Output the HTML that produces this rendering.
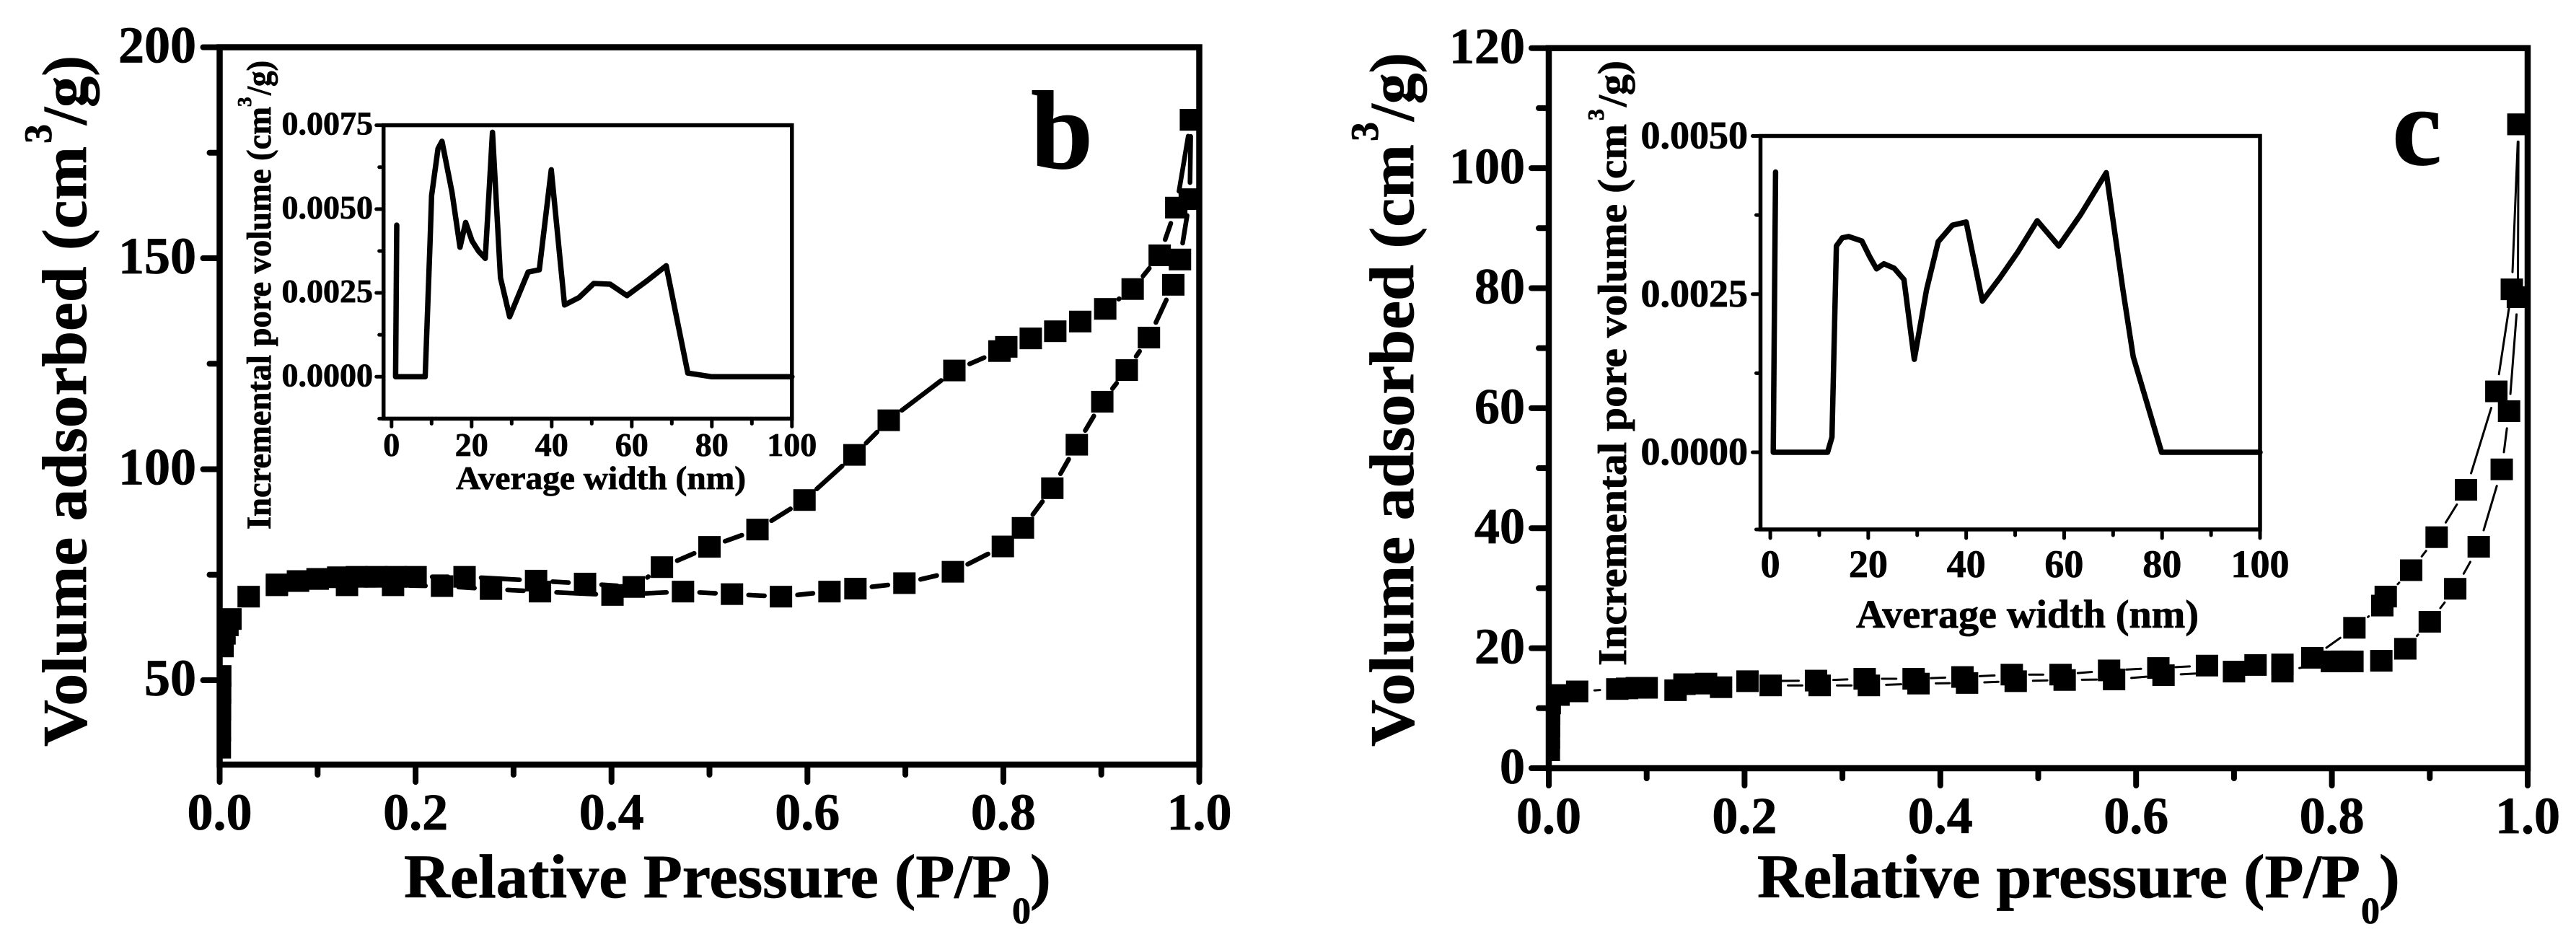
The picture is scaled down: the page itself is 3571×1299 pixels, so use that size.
<!DOCTYPE html>
<html lang="en">
<head>
<meta charset="utf-8">
<title>Nitrogen sorption isotherms b and c</title>
<style>
html,body{margin:0;padding:0;background:#fff;}
svg{display:block;}
text{font-family:"Liberation Serif",serif;font-weight:700;fill:#000;stroke:#000;stroke-width:0.8;}
</style>
</head>
<body>
<svg id="figure" xmlns="http://www.w3.org/2000/svg" width="3571" height="1299" viewBox="0 0 3571 1299">
  <rect x="0" y="0" width="3571" height="1299" fill="#fff"/>

  <defs>
    <clipPath id="b-plot-clip"><rect x="300.5" y="61.5" width="1366" height="1002.5"/></clipPath>
    <clipPath id="c-plot-clip"><rect x="2143" y="62.7" width="1365" height="1006.3"/></clipPath>
  </defs>

  <g id="panel-b">
    <g id="b-main"></g>
    <g id="b-inset"></g>
    <text x="1429" y="233" font-size="155">b</text>
    <text transform="translate(119,1035) rotate(-90)" font-size="87" textLength="832" lengthAdjust="spacingAndGlyphs">Volume adsorbed (cm</text>
    <text transform="translate(71,199) rotate(-90)" font-size="54">3</text>
    <text transform="translate(119,173) rotate(-90)" font-size="87" textLength="96" lengthAdjust="spacingAndGlyphs">/g)</text>
    <text x="560" y="1244" font-size="86" textLength="842" lengthAdjust="spacingAndGlyphs">Relative Pressure (P/P</text>
    <text x="1403" y="1280" font-size="52">0</text>
    <text x="1428" y="1244" font-size="86">)</text>
    <text transform="translate(375,734) rotate(-90)" font-size="48" textLength="586" lengthAdjust="spacingAndGlyphs">Incremental pore volume (cm</text>
    <text transform="translate(348,148) rotate(-90)" font-size="27">3</text>
    <text transform="translate(375,132) rotate(-90)" font-size="48" textLength="48" lengthAdjust="spacingAndGlyphs">/g)</text>
    <text x="632" y="678" font-size="46" textLength="402" lengthAdjust="spacingAndGlyphs">Average width (nm)</text>
  </g>

  <g id="panel-c">
    <g id="c-main"></g>
    <g id="c-inset"></g>
    <text x="3316" y="228" font-size="155">c</text>
    <text transform="translate(1959,1035) rotate(-90)" font-size="87" textLength="835" lengthAdjust="spacingAndGlyphs">Volume adsorbed (cm</text>
    <text transform="translate(1910,196) rotate(-90)" font-size="54">3</text>
    <text transform="translate(1959,168) rotate(-90)" font-size="87" textLength="95" lengthAdjust="spacingAndGlyphs">/g)</text>
    <text x="2436" y="1244" font-size="86" textLength="836" lengthAdjust="spacingAndGlyphs">Relative pressure (P/P</text>
    <text x="3273" y="1280" font-size="52">0</text>
    <text x="3298" y="1244" font-size="86">)</text>
    <text transform="translate(2254,923) rotate(-90)" font-size="56" textLength="751" lengthAdjust="spacingAndGlyphs">Incremental pore volume (cm</text>
    <text transform="translate(2223,167) rotate(-90)" font-size="32">3</text>
    <text transform="translate(2254,148) rotate(-90)" font-size="56" textLength="64" lengthAdjust="spacingAndGlyphs">/g)</text>
    <text x="2573" y="870" font-size="55" textLength="475" lengthAdjust="spacingAndGlyphs">Average width (nm)</text>
  </g>
</svg>

<script>
// ---- chart data ----
const pressureTicks = [0, 0.2, 0.4, 0.6, 0.8, 1.0];
const pressureTickLabels = ['0.0', '0.2', '0.4', '0.6', '0.8', '1.0'];
const pressureMinorTicks = [0.1, 0.3, 0.5, 0.7, 0.9];
const widthTicks = [0, 20, 40, 60, 80, 100];
const widthTickLabels = ['0', '20', '40', '60', '80', '100'];
const widthMinorTicks = [10, 30, 50, 70, 90];

const bVolumeTicks = [50, 100, 150, 200];
const bVolumeTickLabels = ['50', '100', '150', '200'];
const bVolumeMinorTicks = [75, 125, 175];
const cVolumeTicks = [0, 20, 40, 60, 80, 100, 120];
const cVolumeTickLabels = ['0', '20', '40', '60', '80', '100', '120'];
const cVolumeMinorTicks = [10, 30, 50, 70, 90, 110];

const bInsetTicks = [0, 0.0025, 0.005, 0.0075];
const bInsetTickLabels = ['0.0000', '0.0025', '0.0050', '0.0075'];
const bInsetMinorTicks = [-0.00125, 0.00125, 0.00375, 0.00625];
const cInsetTicks = [0, 0.0025, 0.005];
const cInsetTickLabels = ['0.0000', '0.0025', '0.0050'];
const cInsetMinorTicks = [-0.00122, 0.00125, 0.00375];

const bAdsorptionP = [0.0002,0.0003,0.0004,0.0005,0.0006,0.003,0.005,0.008,0.011,0.0296,0.0584,0.08,0.1,0.13,0.177,0.227,0.277,0.327,0.401,0.473,0.523,0.573,0.6225,0.649,0.699,0.7485,0.7995,0.82,0.85,0.875,0.901,0.926,0.9486,0.9735,0.9803,0.9903,0.9915];
const bAdsorptionV = [34,38,43,47,51,58,61,63,64.5,69.8,72.5,73.5,74,72.5,72.5,72.3,71.6,71,70.2,71,70.4,69.8,71,71.7,73,75.7,81.7,86.1,95.5,105.8,116,123.5,131.2,143.7,149.7,164,182.8];
const bDesorptionP = [0.9915,0.9765,0.9596,0.932,0.904,0.8785,0.853,0.828,0.803,0.796,0.75,0.683,0.648,0.597,0.549,0.5,0.4515,0.4227,0.373,0.323,0.25,0.2,0.18,0.16,0.14,0.121,0.1,0.08,0.0585];
const bDesorptionV = [182.8,162,150.7,142.7,138,135,132.7,131,129,128,123.4,111.6,103.4,92.7,85.7,81.6,76.8,72.1,72.9,73.6,74.5,74.5,74.5,74.5,74.5,74.4,74,73.5,72.7];

const cAdsorptionP = [0.0001,0.0002,0.0003,0.0004,0.001,0.01,0.029,0.07,0.08,0.09,0.1,0.1295,0.176,0.2267,0.2767,0.327,0.3777,0.4273,0.477,0.527,0.5775,0.628,0.70,0.7495,0.80,0.81,0.821,0.8505,0.875,0.90,0.926,0.95,0.9735,0.981,0.99,0.9906];
const cAdsorptionV = [3,5,7,9,10.8,12.2,12.8,13.2,13.3,13.4,13.4,13,13.5,13.8,13.8,13.8,14.1,14.2,14.5,14.7,14.8,15.5,16.1,16.1,17.8,17.8,17.8,17.9,19.9,24.4,29.9,36.9,49.8,59.5,78.5,107.3];
const cDesorptionP = [0.9906,0.9838,0.968,0.937,0.907,0.881,0.855,0.8515,0.823,0.78,0.7495,0.722,0.6724,0.6227,0.5724,0.5228,0.473,0.4226,0.3727,0.3227,0.273,0.203,0.1607,0.1386];
const cDesorptionV = [107.3,79.8,62.8,46.4,38.5,33,28.6,27.1,23.4,18.4,17.3,17.2,17.1,16.7,16.3,15.6,15.6,15.2,14.9,14.9,14.6,14.5,14.1,14];

const bInsetWidth = [1.3,1.0,8.4,9.6,10,11.6,12.6,15.1,17.1,18.5,20.1,21.7,23.4,25.2,27.2,29.5,34.1,36.9,39.9,43.2,46.8,50.5,54.6,58.8,63.8,68.6,74,80,100];
const bInsetVolume = [0.00452,0,0,0.00397,0.0054,0.0068,0.00702,0.0055,0.00386,0.0046,0.00405,0.00375,0.00353,0.00729,0.00295,0.00179,0.00312,0.00319,0.00617,0.00214,0.00236,0.00278,0.00276,0.00242,0.00286,0.00331,0.00011,0,0];
const cInsetWidth = [1.08,0.6,11.7,12.6,13.5,14.7,16,18.7,20.3,21.7,23.2,25.3,27.3,29.4,31.9,34.3,37.2,40,43.3,46.9,50.5,54.5,58.9,63.4,68.6,72,74.1,75.8,79.9,100];
const cInsetVolume = [0.00443,0,0,0.00024,0.00326,0.00339,0.00341,0.00334,0.00309,0.0029,0.00298,0.00291,0.00273,0.00147,0.00257,0.00333,0.00359,0.00364,0.00239,0.00276,0.00316,0.00366,0.00326,0.00376,0.00442,0.00257,0.00151,0.00107,0,0];

// ---- drawing ----
const NS = 'http://www.w3.org/2000/svg';

function makeScale(domainMin, domainMax, pixelMin, pixelMax) {
  return function (v) {
    return pixelMin + (v - domainMin) / (domainMax - domainMin) * (pixelMax - pixelMin);
  };
}

function svgEl(parent, tag, attrs) {
  const el = document.createElementNS(NS, tag);
  for (const k in attrs) el.setAttribute(k, attrs[k]);
  parent.appendChild(el);
  return el;
}

function drawFrame(g, xs, ys, xDomain, yDomain, sw) {
  const x0 = xs(xDomain[0]), x1 = xs(xDomain[1]), y0 = ys(yDomain[0]), y1 = ys(yDomain[1]);
  const el = svgEl(g, 'rect', {x: x0, y: y1, width: x1 - x0, height: y0 - y1, fill: 'none', stroke: '#000', 'stroke-width': sw});
  
  
}

function drawXTicks(g, xs, base, values, len, sw) {
  values.forEach(function (v) {
    const el = svgEl(g, 'line', {x1: xs(v), x2: xs(v), y1: base, y2: base + len, stroke: '#000', 'stroke-width': sw, 'stroke-linecap': 'round'});
    
    
  });
}

function drawYTicks(g, ys, base, values, len, sw) {
  values.forEach(function (v) {
    const el = svgEl(g, 'line', {x1: base, x2: base - len, y1: ys(v), y2: ys(v), stroke: '#000', 'stroke-width': sw, 'stroke-linecap': 'round'});
    
    
  });
}

function drawXLabels(g, xs, values, labels, baseline, size) {
  values.forEach(function (v, i) {
    const el = svgEl(g, 'text', {x: xs(v), y: baseline, 'font-size': size, 'text-anchor': 'middle'});
    el.textContent = labels[i];
    
    
  });
}

function drawYLabels(g, ys, values, labels, right, drop, size) {
  values.forEach(function (v, i) {
    const el = svgEl(g, 'text', {x: right, y: ys(v) + drop, 'font-size': size, 'text-anchor': 'end'});
    el.textContent = labels[i];
    
    
  });
}

// Origin-style "line + symbol" connector: each segment stops short of its markers.
function drawGapLine(g, xs, ys, px, py, gap, sw) {
  for (let i = 0; i + 1 < px.length; i++) {
    const ax = xs(px[i]), ay = ys(py[i]), bx = xs(px[i + 1]), by = ys(py[i + 1]);
    const d = Math.hypot(bx - ax, by - ay);
    if (d <= 2 * gap) continue;
    const ux = (bx - ax) / d, uy = (by - ay) / d;
    const el = svgEl(g, 'line', {x1: ax + ux * gap, y1: ay + uy * gap, x2: bx - ux * gap, y2: by - uy * gap, stroke: '#000', 'stroke-width': sw, 'stroke-linecap': 'round'});
    
    
  }
}

function drawMarkers(g, xs, ys, px, py) {
  px.forEach(function (p, i) {
    const el = svgEl(g, 'rect', {x: xs(p) - 15.5, y: ys(py[i]) - 15, width: 31, height: 30, fill: '#000'});
    
    
  });
}

function drawCurve(g, xs, ys, px, py, sw) {
  const pts = px.map(function (p, i) { return xs(p).toFixed(1) + ',' + ys(py[i]).toFixed(1); }).join(' ');
  const el = svgEl(g, 'polyline', {points: pts, fill: 'none', stroke: '#000', 'stroke-width': sw, 'stroke-linejoin': 'round', 'stroke-linecap': 'round'});
  
  
}

// Panel b main plot
(function () {
  const g = document.getElementById('b-main');
  const xs = makeScale(0, 1, 304.5, 1662.5);
  const ys = makeScale(30, 200, 1060, 65.5);
  drawFrame(g, xs, ys, [0, 1], [30, 200], 8.5);
  drawXTicks(g, xs, 1060, pressureTicks, 24, 8);
  drawXTicks(g, xs, 1060, pressureMinorTicks, 14, 8);
  drawYTicks(g, ys, 304.5, bVolumeTicks, 23, 8);
  drawYTicks(g, ys, 304.5, bVolumeMinorTicks, 14, 8);
  drawXLabels(g, xs, pressureTicks, pressureTickLabels, 1150, 72);
  drawYLabels(g, ys, bVolumeTicks, bVolumeTickLabels, 272, 21, 72);
  const data = svgEl(g, 'g', {'clip-path': 'url(#b-plot-clip)'});
  
  
  drawGapLine(data, xs, ys, bAdsorptionP, bAdsorptionV, 23, 6.5);
  drawGapLine(data, xs, ys, bDesorptionP, bDesorptionV, 23, 6.5);
  drawMarkers(data, xs, ys, bAdsorptionP, bAdsorptionV);
  drawMarkers(data, xs, ys, bDesorptionP, bDesorptionV);
})();

// Panel b inset
(function () {
  const g = document.getElementById('b-inset');
  const xs = makeScale(-2, 100, 531.7, 1097.8);
  const ys = makeScale(-0.00125, 0.0075, 580.4, 173.6);
  drawFrame(g, xs, ys, [-2, 100], [-0.00125, 0.0075], 5.5);
  drawXTicks(g, xs, 580.4, widthTicks, 11, 5);
  drawXTicks(g, xs, 580.4, widthMinorTicks, 7, 5);
  drawYTicks(g, ys, 531.7, bInsetTicks, 10, 5);
  drawYTicks(g, ys, 531.7, bInsetMinorTicks, 6, 5);
  drawXLabels(g, xs, widthTicks, widthTickLabels, 632, 46);
  drawYLabels(g, ys, bInsetTicks, bInsetTickLabels, 517, 13, 46);
  drawCurve(g, xs, ys, bInsetWidth, bInsetVolume, 7.5);
})();

// Panel c main plot
(function () {
  const g = document.getElementById('c-main');
  const xs = makeScale(0, 1, 2147, 3504);
  const ys = makeScale(0, 120, 1065, 66.7);
  drawFrame(g, xs, ys, [0, 1], [0, 120], 8.5);
  drawXTicks(g, xs, 1065, pressureTicks, 24, 8);
  drawXTicks(g, xs, 1065, pressureMinorTicks, 14, 8);
  drawYTicks(g, ys, 2147, cVolumeTicks, 24, 8);
  drawYTicks(g, ys, 2147, cVolumeMinorTicks, 14, 8);
  drawXLabels(g, xs, pressureTicks, pressureTickLabels, 1155, 72);
  drawYLabels(g, ys, cVolumeTicks, cVolumeTickLabels, 2114, 21, 70);
  const data = svgEl(g, 'g', {'clip-path': 'url(#c-plot-clip)'});
  
  
  drawGapLine(data, xs, ys, cAdsorptionP, cAdsorptionV, 24, 3);
  drawGapLine(data, xs, ys, cDesorptionP, cDesorptionV, 24, 3);
  drawMarkers(data, xs, ys, cAdsorptionP, cAdsorptionV);
  drawMarkers(data, xs, ys, cDesorptionP, cDesorptionV);
})();

// Panel c inset
(function () {
  const g = document.getElementById('c-inset');
  const xs = makeScale(-2, 100, 2440.5, 3133);
  const ys = makeScale(-0.00122, 0.005, 734, 188.5);
  drawFrame(g, xs, ys, [-2, 100], [-0.00122, 0.005], 5.5);
  drawXTicks(g, xs, 734, widthTicks, 12, 5);
  drawXTicks(g, xs, 734, widthMinorTicks, 8, 5);
  drawYTicks(g, ys, 2440.5, cInsetTicks, 11, 5);
  drawYTicks(g, ys, 2440.5, cInsetMinorTicks, 6, 5);
  drawXLabels(g, xs, widthTicks, widthTickLabels, 800, 54);
  drawYLabels(g, ys, cInsetTicks, cInsetTickLabels, 2423, 17, 54);
  drawCurve(g, xs, ys, cInsetWidth, cInsetVolume, 7.5);
})();
</script>
</body>
</html>
